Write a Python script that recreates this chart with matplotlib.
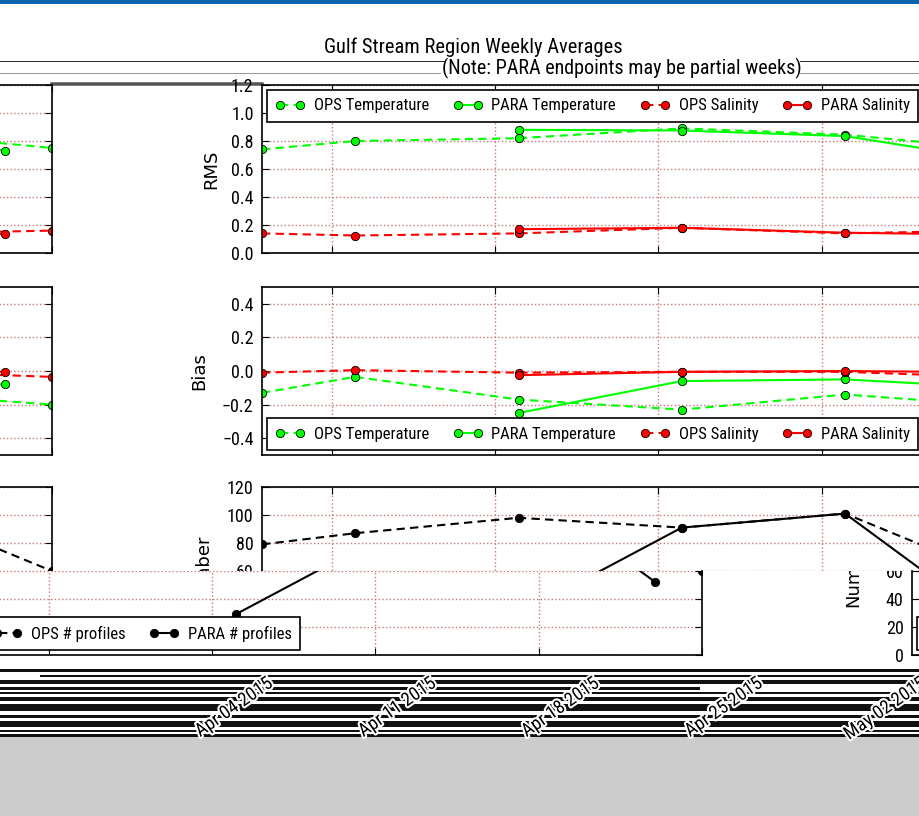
import matplotlib
matplotlib.use('Agg')
import matplotlib.pyplot as plt
import pandas as pd
from matplotlib.transforms import ScaledTranslation, Bbox, TransformedBbox
from matplotlib.patches import Rectangle
from matplotlib.lines import Line2D
import matplotlib.patheffects as pe

# ---------------- data ----------------
ops_dates = ['2015-04-01', '2015-04-05', '2015-04-12', '2015-04-19', '2015-04-26', '2015-05-02']
para_dates = ['2015-04-12', '2015-04-19', '2015-04-26', '2015-04-30']

ops_rms_temp = [0.74, 0.80, 0.82, 0.89, 0.845, 0.75]
para_rms_temp = [0.88, 0.875, 0.835, 0.73]
ops_rms_sal = [0.14, 0.125, 0.14, 0.18, 0.14, 0.16]
para_rms_sal = [0.17, 0.18, 0.145, 0.136]

ops_bias_temp = [-0.13, -0.035, -0.17, -0.23, -0.14, -0.20]
para_bias_temp = [-0.25, -0.06, -0.05, -0.08]
ops_bias_sal = [-0.01, 0.005, -0.01, -0.005, -0.005, -0.035]
para_bias_sal = [-0.025, -0.005, 0.0, -0.005]

ops_num = [79, 87, 98, 91, 101, 60]
para_num = [29, 91, 101, 52]

tick_dates = ['2015-04-04', '2015-04-11', '2015-04-18', '2015-04-25', '2015-05-02']
tick_labels = ['Apr 04 2015', 'Apr 11 2015', 'Apr 18 2015', 'Apr 25 2015', 'May 02 2015']

title = 'Gulf Stream Region Weekly Averages'
subtitle = '(Note: PARA endpoints may be partial weeks)'

# ---------------- style ----------------
NARROW = ['Roboto Condensed', 'Liberation Sans Narrow', 'Liberation Sans', 'DejaVu Sans']
plt.rcParams['font.family'] = NARROW

W, H = 919, 816
fig = plt.figure(figsize=(W / 100, H / 100), dpi=100)
fig.patch.set_facecolor('white')

od = pd.to_datetime(ops_dates)
pdt = pd.to_datetime(para_dates)
td = pd.to_datetime(tick_dates)
XMIN, XMAX = od[0], od[-1]

GREEN = '#00ff00'
RED = '#ff0000'
GRIDC = '#c87878'
DASH = (0, (4, 2.5))


def px_rect(l, t, r, b):
    return [l / W, 1 - b / H, (r - l) / W, (b - t) / H]


def fig_bbox(l, t, r, b):
    return TransformedBbox(Bbox.from_extents(l / W, 1 - b / H, r / W, 1 - t / H), fig.transFigure)


def base_style(ax, ylim, yticks):
    ax.set_xlim(XMIN, XMAX)
    ax.set_ylim(*ylim)
    ax.set_yticks(yticks)
    ax.set_xticks(td)
    ax.set_xticklabels([])
    ax.grid(True, linestyle=':', color=GRIDC, linewidth=1)
    ax.tick_params(direction='in', top=True, right=True, length=5, labelsize=13, pad=6)
    for s in ax.spines.values():
        s.set_linewidth(1.2)
        s.set_color('black')


def leg(ax, loc, ncol):
    lg = ax.legend(loc=loc, ncol=ncol, numpoints=2, fontsize=12, frameon=True, fancybox=False,
                   framealpha=1, edgecolor='black', handlelength=1.8, handletextpad=0.5,
                   columnspacing=1.45, borderaxespad=0.3, borderpad=0.5)
    lg.get_frame().set_linewidth(1.2)
    return lg


def series(ax, x, y, color, ls, label, mec='black'):
    ax.plot(x, y, linestyle=ls, color=color, linewidth=1.5, marker='o', markersize=6,
            markerfacecolor=color, markeredgecolor=mec, markeredgewidth=0.6, label=label)


PANELS = [(85, 253), (287, 455), (487, 655)]
AX_L, AX_R = 262, 985
WRAP = 933


def draw_rms(xoff, zorder=0):
    t, b = PANELS[0]
    ax = fig.add_axes(px_rect(AX_L + xoff, t, AX_R + xoff, b), zorder=zorder)
    series(ax, od, ops_rms_temp, GREEN, DASH, 'OPS Temperature')
    series(ax, pdt, para_rms_temp, GREEN, '-', 'PARA Temperature')
    series(ax, od, ops_rms_sal, RED, DASH, 'OPS Salinity')
    series(ax, pdt, para_rms_sal, RED, '-', 'PARA Salinity')
    base_style(ax, (0, 1.2), [0.0, 0.2, 0.4, 0.6, 0.8, 1.0, 1.2])
    ax.set_ylabel('RMS', fontsize=13, family='DejaVu Sans')
    ax.yaxis.set_label_coords(-42 / 723, 0.5)
    leg(ax, 'upper left', 4)
    return ax


def draw_bias(xoff, zorder=0):
    t, b = PANELS[1]
    ax = fig.add_axes(px_rect(AX_L + xoff, t, AX_R + xoff, b), zorder=zorder)
    series(ax, od, ops_bias_temp, GREEN, DASH, 'OPS Temperature')
    series(ax, pdt, para_bias_temp, GREEN, '-', 'PARA Temperature')
    series(ax, od, ops_bias_sal, RED, DASH, 'OPS Salinity')
    series(ax, pdt, para_bias_sal, RED, '-', 'PARA Salinity')
    base_style(ax, (-0.5, 0.5), [-0.4, -0.2, 0.0, 0.2, 0.4])
    ax.set_ylabel('Bias', fontsize=13, family='DejaVu Sans')
    ax.yaxis.set_label_coords(-54 / 723, 0.5)
    leg(ax, 'lower left', 4)
    return ax


def draw_num(xoff, zorder=0, top=487, ylim=(0, 120), ylabel_y=0.5, clip=None):
    b = PANELS[2][1]
    ax = fig.add_axes(px_rect(AX_L + xoff, top, AX_R + xoff, b), zorder=zorder)
    series(ax, od, ops_num, 'black', DASH, 'OPS # profiles')
    series(ax, pdt, para_num, 'black', '-', 'PARA # profiles')
    base_style(ax, ylim, [v for v in [0, 20, 40, 60, 80, 100, 120] if ylim[0] <= v <= ylim[1]])
    lab = ax.set_ylabel('Number', fontsize=13, family='DejaVu Sans')
    ax.yaxis.set_label_coords(-50 / 723, ylabel_y)
    leg(ax, 'lower left', 2)
    if clip is not None:
        lab.set_clip_box(clip)
        lab.set_clip_on(True)
        for t in ax.get_yticklabels():
            t.set_clip_box(clip)
            t.set_clip_on(True)
    return ax


# ---------------- background decorations ----------------
fig.add_artist(Rectangle((0, 1 - 4 / H), 1, 4 / H, transform=fig.transFigure,
                         facecolor='#0b63ab', edgecolor='none', zorder=-2))
fig.add_artist(Rectangle((0, 0), 1, (H - 737) / H, transform=fig.transFigure,
                         facecolor='#cccccc', edgecolor='none', zorder=-2))
stripes = [(669, 3, 0, 919), (675, 2, 40, 919), (680, 4, 0, 919), (687, 3, 0, 700),
           (692, 2, 0, 919), (697, 4, 0, 919), (704, 7, 0, 919), (715, 3, 0, 919),
           (721, 6, 0, 919), (730, 2, 0, 919), (734, 3, 0, 919)]
for (y, h, x0, x1) in stripes:
    fig.add_artist(Rectangle((x0 / W, 1 - (y + h) / H), (x1 - x0) / W, h / H,
                             transform=fig.transFigure, facecolor='#111111',
                             edgecolor='none', zorder=-1))

for (y, x0, x1, c, lw) in [(61, 0, 445, '#333333', 1.0), (61, 800, 919, '#333333', 1.0),
                           (73, 0, 440, '#999999', 1.0), (73, 800, 919, '#999999', 1.0),
                           (84, 52, 262, '#555555', 3.5)]:
    fig.add_artist(Line2D([x0 / W, x1 / W], [1 - y / H, 1 - y / H], transform=fig.transFigure,
                          color=c, linewidth=lw * 0.72, zorder=-1))

# ---------------- titles ----------------
fig.text(473 / W, 1 - 47 / H, title, ha='center', va='center', fontsize=14.8)
fig.text(622 / W, 1 - 68 / H, subtitle, ha='center', va='center', fontsize=14.5)

# ---------------- main chart ----------------
ax1 = draw_rms(0)
ax2 = draw_bias(0)
ax3 = draw_num(0)
ax3.set_xticklabels(tick_labels)
off = ScaledTranslation(-0.56, -0.11, fig.dpi_scale_trans)
for lbl in ax3.get_xticklabels():
    lbl.set_rotation(35)
    lbl.set_ha('right')
    lbl.set_fontsize(13.5)
    lbl.set_transform(lbl.get_transform() + off)
    lbl.set_path_effects([pe.withStroke(linewidth=3, foreground='white')])
# lower part of the main Number panel is hidden under the shifted band
for tk in ax3.yaxis.get_major_ticks()[:3]:
    tk.label1.set_visible(False)
ax3.get_legend().set_visible(False)

# wrapped sliver on the left edge
draw_rms(-WRAP)
draw_bias(-WRAP)
draw_num(-WRAP)

# shifted band across the lower part of the Number panel
fig.add_artist(Rectangle((0, 1 - 668 / H), 1, (668 - 571) / H, transform=fig.transFigure,
                         facecolor='white', edgecolor='none', zorder=0.5))
band_clip = fig_bbox(0, 571, 919, 668)
draw_num(-283, zorder=1, top=571, ylim=(0, 60), ylabel_y=1.0, clip=band_clip)
draw_num(650, zorder=1, top=571, ylim=(0, 60), ylabel_y=1.0, clip=band_clip)
for a in fig.axes[-2:]:
    a.spines['top'].set_visible(False)
    a.tick_params(top=False)

fig.savefig('out.png', dpi=100)
